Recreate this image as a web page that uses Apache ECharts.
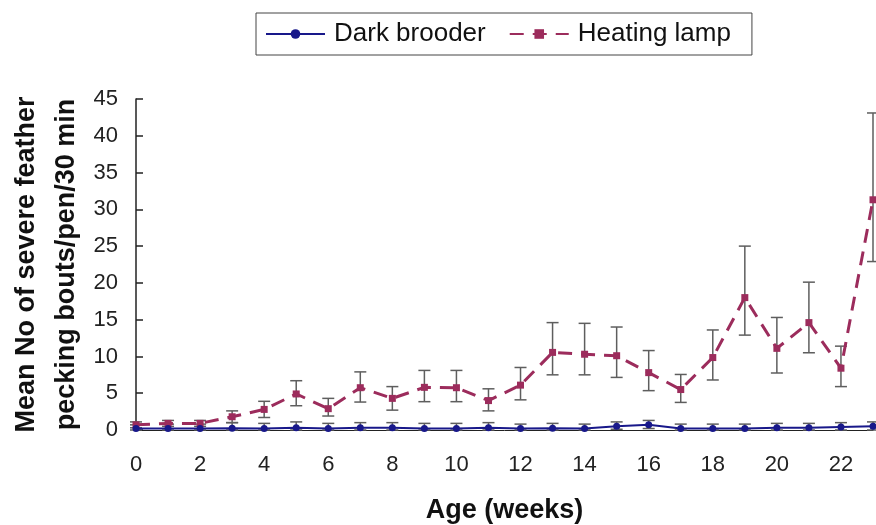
<!DOCTYPE html>
<html>
<head>
<meta charset="utf-8">
<script src="https://cdn.jsdelivr.net/npm/echarts@6/dist/echarts.min.js"></script>
<style>
html,body{margin:0;padding:0;background:#fff;}
#chart{width:876px;height:525px;}
</style>
</head>
<body>
<div id="chart"></div>
<script>
var weeks = [0,1,2,3,4,5,6,7,8,9,10,11,12,13,14,15,16,17,18,19,20,21,22,23];
var xTicks = [0,2,4,6,8,10,12,14,16,18,20,22];
var yTicks = [0,5,10,15,20,25,30,35,40,45];

var darkMean = [0.2,0.2,0.2,0.25,0.2,0.3,0.2,0.3,0.3,0.2,0.2,0.3,0.2,0.25,0.2,0.5,0.7,0.2,0.2,0.2,0.3,0.3,0.4,0.5];
var darkHigh = [0.7,0.8,0.8,1.0,0.9,1.1,0.9,1.0,1.0,0.9,0.9,1.0,0.8,0.9,0.8,1.1,1.3,0.8,0.8,0.8,0.9,0.9,1.0,1.1];
var darkLow  = [0,0,0,0,0,0,0,0,0,0,0,0,0,0,0,0.1,0.2,0,0,0,0,0,0,0];

var heatMean = [0.7,0.9,0.9,1.8,2.8,4.9,2.9,5.75,4.3,5.8,5.75,4.0,6.1,10.55,10.3,10.1,7.8,5.5,9.85,18.0,11.1,14.6,8.4,31.3];
var heatHigh = [1.1,1.3,1.3,2.6,3.9,6.7,4.3,7.9,5.9,8.1,8.1,5.6,8.5,14.6,14.5,14.0,10.8,7.55,13.6,25.0,15.3,20.1,11.4,43.1];
var heatLow  = [0.3,0.5,0.5,1.0,1.7,3.3,1.9,3.8,2.7,3.85,3.85,2.6,4.1,7.5,7.5,7.15,5.35,3.75,6.8,12.9,7.75,10.5,5.9,22.9];

var DARK = '#18188a';
var HEAT = '#9c2c5c';
var ERR = '#5e5e5e';

function pairs(xs, ys){ return xs.map(function(x,i){ return [x, ys[i]]; }); }
function errData(xs, lo, hi){ return xs.map(function(x,i){ return [x, lo[i], hi[i]]; }); }

function errRender(params, api){
  var x = api.value(0);
  var p1 = api.coord([x, api.value(1)]);
  var p2 = api.coord([x, api.value(2)]);
  var hw = 6;
  var st = {stroke: ERR, lineWidth: 1.5, fill: null};
  return {
    type: 'group',
    children: [
      {type:'line', shape:{x1:p1[0], y1:p1[1], x2:p2[0], y2:p2[1]}, style: st},
      {type:'line', shape:{x1:p2[0]-hw, y1:p2[1], x2:p2[0]+hw, y2:p2[1]}, style: st},
      {type:'line', shape:{x1:p1[0]-hw, y1:p1[1], x2:p1[0]+hw, y2:p1[1]}, style: st}
    ]
  };
}

var chart = echarts.init(document.getElementById('chart'), null, {renderer:'canvas'});
var FONT = '"Liberation Sans", Arial, Helvetica, sans-serif';
chart.setOption({
  animation: false,
  backgroundColor: '#fff',
  textStyle: {fontFamily: FONT},
  legend: {
    left: 256, top: 13,
    orient: 'horizontal',
    padding: [8, 21, 8, 9],
    borderColor: '#444', borderWidth: 1,
    itemWidth: 59, itemHeight: 12, itemGap: 23,
    textStyle: {fontSize: 26, color: '#111', fontFamily: FONT, padding: [0,0,0,4]},
    data: ['Dark brooder', 'Heating lamp']
  },
  grid: {left: 136, right: 3, top: 99, bottom: 95, containLabel: false, outerBoundsMode: 'none'},
  xAxis: {
    type: 'value', min: 0, max: 23, interval: 2,
    name: 'Age (weeks)', nameLocation: 'middle', nameGap: 67, nameMoveOverlap: false,
    nameTextStyle: {fontSize: 27, fontWeight: 'bold', color: '#111', fontFamily: FONT},
    axisLine: {show: true, lineStyle: {color: '#222', width: 1}},
    axisTick: {show: false},
    splitLine: {show: false},
    axisLabel: {
      fontSize: 22, color: '#222', margin: 24, showMaxLabel: false,
      formatter: function(v){ return xTicks.indexOf(v) >= 0 ? String(v) : ''; }
    }
  },
  yAxis: {
    type: 'value', min: 0, max: 45, interval: 5,
    name: 'Mean No of severe feather\npecking bouts/pen/30 min',
    nameLocation: 'middle', nameGap: 49, nameRotate: 90, nameMoveOverlap: false,
    nameTextStyle: {fontSize: 27, fontWeight: 'bold', color: '#111', lineHeight: 40, fontFamily: FONT},
    axisLine: {show: true, lineStyle: {color: '#222', width: 1.5}},
    axisTick: {show: true, inside: true, length: 7, lineStyle: {color: '#222', width: 1.5}},
    splitLine: {show: false},
    axisLabel: {
      fontSize: 22, color: '#222', margin: 18,
      formatter: function(v){ return yTicks.indexOf(v) >= 0 ? String(v) : ''; }
    }
  },
  series: [
    {
      name: 'Heating lamp err', type: 'custom', renderItem: errRender,
      data: errData(weeks, heatLow, heatHigh), encode: {x: 0, y: [1, 2]}, z: 1, clip: false
    },
    {
      name: 'Dark brooder err', type: 'custom', renderItem: errRender,
      data: errData(weeks, darkLow, darkHigh), encode: {x: 0, y: [1, 2]}, z: 1, clip: false
    },
    {
      name: 'Heating lamp', type: 'line', data: pairs(weeks, heatMean),
      symbol: 'rect', symbolSize: 7, showAllSymbol: true,
      lineStyle: {color: HEAT, width: 3, type: [14, 9]},
      itemStyle: {color: HEAT}, z: 3
    },
    {
      name: 'Dark brooder', type: 'line', data: pairs(weeks, darkMean),
      symbol: 'circle', symbolSize: 7, showAllSymbol: true,
      lineStyle: {color: DARK, width: 2},
      itemStyle: {color: DARK}, z: 4
    }
  ]
});
</script>
</body>
</html>
